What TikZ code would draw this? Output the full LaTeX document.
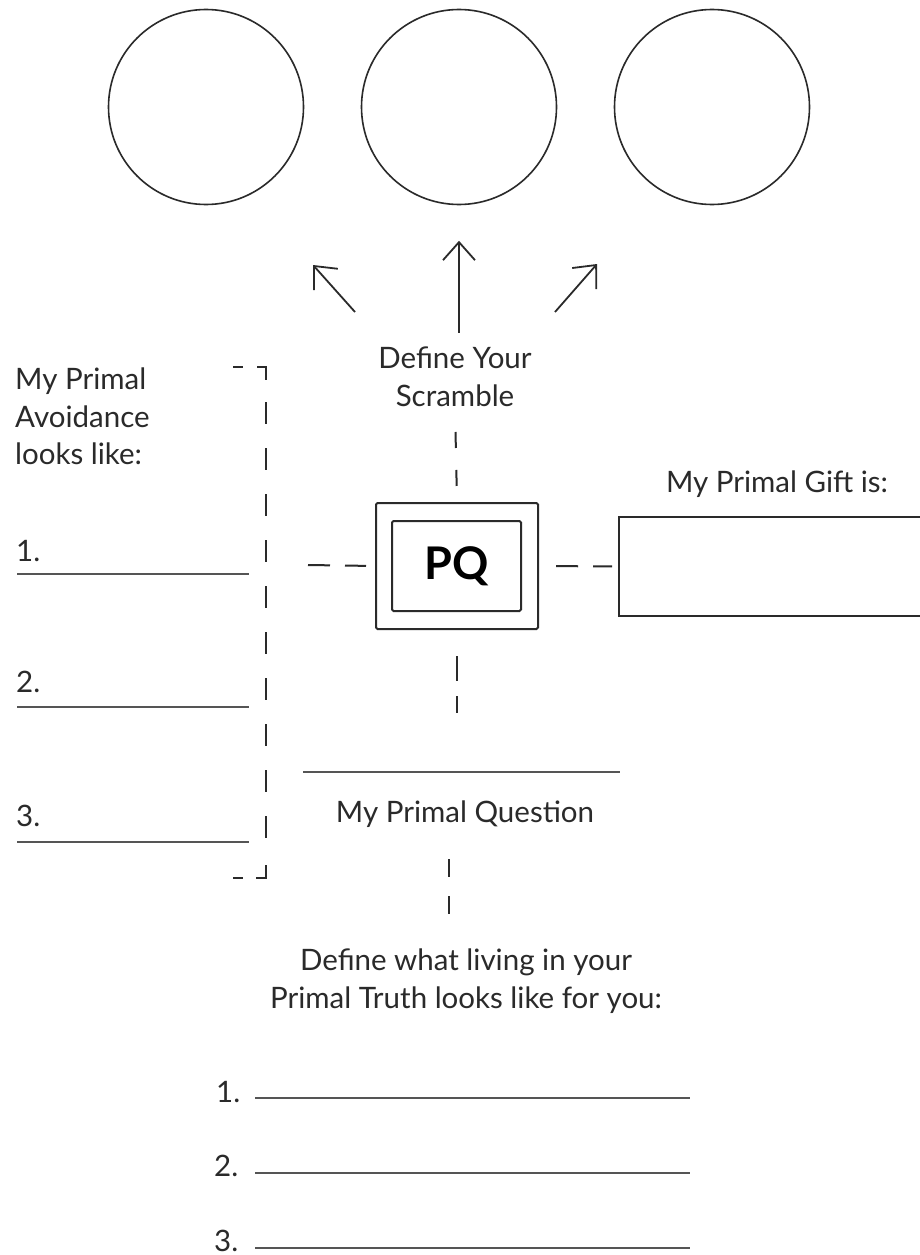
\documentclass[tikz,border=0pt]{standalone}
\usepackage{fontspec}
\setmainfont{Lato}
\usetikzlibrary{arrows.meta}
\definecolor{ink}{HTML}{2a2a2a}
\definecolor{linegray}{HTML}{555555}
\begin{document}
\begin{tikzpicture}[x=1pt,y=-1pt,
  lbl/.style={inner sep=0pt, text=ink, font=\fontsize{29.5}{38}\selectfont},
  ring/.style={circle, draw=ink, line width=1.6pt, minimum size=195pt, inner sep=0pt},
  dsh/.style={draw=ink, line width=2pt},
  writeline/.style={draw=linegray, line width=2.2pt},
  arr/.style={draw=ink, line width=1.8pt, -{Straight Barb[length=18pt,width=32pt]}},
  box/.style={draw=ink, line width=2pt, inner sep=0pt, rounded corners=1.5pt}]
\useasboundingbox[fill=white] (0,0) rectangle (920,1255);

% circles
\node[ring] (c1) at (206,107) {};
\node[ring] (c2) at (459,107) {};
\node[ring] (c3) at (712,107) {};

% scramble label and arrows
\node[lbl, anchor=south, align=center] (scr) at (455,407) {Define Your\\Scramble};
\coordinate (aLt) at (355,312);
\coordinate (aLh) at (313,265);
\coordinate (aRt) at (555,312);
\coordinate (aRh) at (597,264);
\draw[arr] (aLt) -- (aLh);
\draw[arr] (aRt) -- (aRh);
\draw[arr, shorten <=14pt, shorten >=35.5pt] (scr.north -| c2.south) -- (c2.south);

% PQ box
\node[box, minimum width=162pt, minimum height=126pt] (pq) at (457,566) {};
\node[box, minimum width=129pt, minimum height=90pt, text=black,
      font=\fontsize{45}{45}\selectfont\bfseries] (pqin) at (456.5,566) {PQ};

% gift
\node[lbl, anchor=base] (giftlbl) at (777,492) {My Primal Gift is:};
\node[box, rounded corners=0pt, minimum width=330pt, minimum height=99pt, anchor=north west] (gift) at (618,516) {};

% dashed connectors around PQ
\coordinate (lft) at (308,565);
\draw[dsh, dash pattern=on 16pt off 22pt, shorten <=25pt, shorten >=15pt] (scr.south) -- (pq.north);
\draw[dsh, dash pattern=on 22pt off 15pt, shorten >=9pt] (lft) -- (pq.west);
\draw[dsh, dash pattern=on 22pt off 15pt, shorten <=17pt, shorten >=6pt] (pq.east) -- (gift.west);

% primal question
\coordinate (qlineL) at (303,772);
\coordinate (qlineR) at (620,772);
\coordinate (qline) at (457,772);
\draw[writeline] (qlineL) -- (qlineR);
\draw[dsh, dash pattern=on 25pt off 15pt, shorten <=26pt, shorten >=59pt] (pq.south) -- (qline);
\node[lbl, anchor=base] (pql) at (465,822) {My Primal Question};

% primal truth
\node[lbl, anchor=north, align=center] (truth) at (466,949) {Define what living in your\\Primal Truth looks like for you:};
\draw[dsh, dash pattern=on 18pt off 19pt, shorten <=32pt, shorten >=34pt] (pql.south -| 449,0) -- (truth.north -| 449,0);

\node[lbl, anchor=base west] (t1) at (216,1102) {1.};
\node[lbl, anchor=base west] (t2) at (214,1176) {2.};
\node[lbl, anchor=base west] (t3) at (214,1251) {3.};
\draw[writeline] (255,1098) -- (690,1098);
\draw[writeline] (255,1173) -- (690,1173);
\draw[writeline] (255,1248) -- (690,1248);

% avoidance column
\node[lbl, anchor=north west, align=left, font=\fontsize{29.5}{37.5}\selectfont] (avoid) at (15,368) {My Primal\\Avoidance\\looks like:};
\node[lbl, anchor=base west] (a1) at (16,561) {1.};
\node[lbl, anchor=base west] (a2) at (16,692) {2.};
\node[lbl, anchor=base west] (a3) at (16,826) {3.};
\draw[writeline] (17,574) -- (249,574);
\draw[writeline] (17,707) -- (249,707);
\draw[writeline] (17,842) -- (249,842);

% bracket
\draw[dsh] (233,367) -- (243,367);
\draw[dsh] (257,367) -- (266,367) -- (266,380);
\draw[dsh, dash pattern=on 22pt off 24pt] (266,402) -- (266,858);
\draw[dsh] (266,865) -- (266,878) -- (256,878);
\draw[dsh] (233,878) -- (243,878);
\end{tikzpicture}
\end{document}
